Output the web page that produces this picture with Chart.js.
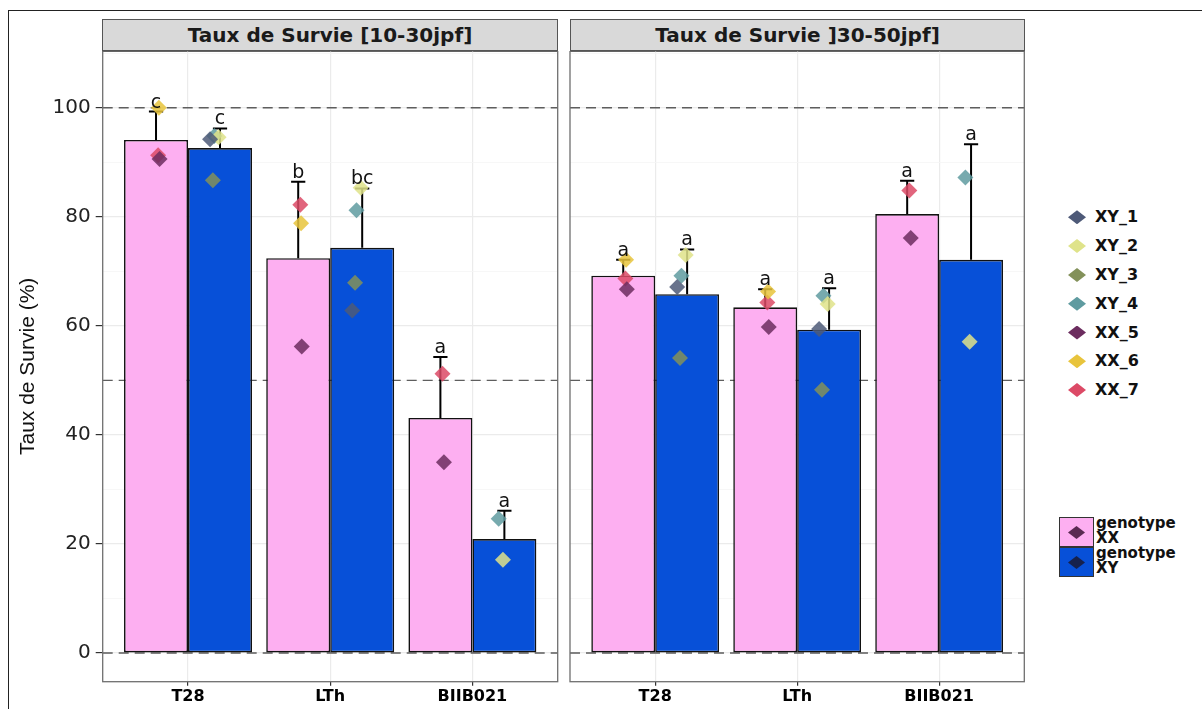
<!DOCTYPE html>
<html>
<head>
<meta charset="utf-8">
<title>Taux de Survie</title>
<script src="https://cdn.jsdelivr.net/npm/chart.js@4.4.1/dist/chart.umd.min.js"></script>
<style>
  body { margin: 0; background: #fff; width: 1202px; height: 709px; overflow: hidden; position: relative; font-family: 'DejaVu Sans', sans-serif; }
  #frame { position: absolute; left: 8px; top: 10px; width: 1300px; height: 800px; border-left: 1.5px solid #222; border-top: 1.5px solid #222; }
  .strip { position: absolute; top: 19px; height: 33px; box-sizing: border-box; background: #d9d9d9; border: 1px solid #555; border-bottom: 2px solid #555;
           font: bold 20px 'DejaVu Sans', sans-serif; color: #1a1a1a; text-align: center; line-height: 30px; }
  .panel { position: absolute; top: 51px; height: 658px; }
  .leg-item { position: absolute; left: 1066px; height: 20px; line-height: 20px; font: bold 16px 'DejaVu Sans', sans-serif; color: #111; }
  .leg-item span.d { position: absolute; left: 2px; top: 3px; width: 18px; height: 14px; clip-path: polygon(50% 0, 100% 50%, 50% 100%, 0 50%); }
  .leg-item span.t { position: absolute; left: 29px; top: 0; white-space: nowrap; }
  .key { position: absolute; left: 1059px; width: 35px; height: 30px; box-sizing: border-box; border: 1px solid #333; }
  .key span { position: absolute; left: 8px; top: 8px; width: 17px; height: 13px; clip-path: polygon(50% 0, 100% 50%, 50% 100%, 0 50%); }
  .key-text { position: absolute; left: 1096px; font: bold 15px 'DejaVu Sans', sans-serif; line-height: 15px; color: #111; }
</style>
</head>
<body>
<div id="frame"></div>
<div class="strip" id="strip1" style="left:102px; width:456px;"></div>
<div class="strip" id="strip2" style="left:570px; width:455px;"></div>
<div class="panel" style="left:0px; width:562px;"><canvas id="chart1" width="562" height="658"></canvas></div>
<div class="panel" style="left:562px; width:478px;"><canvas id="chart2" width="478" height="658"></canvas></div>
<div id="legend"></div>

<script>
// categories and panels
var categories = ['T28', 'LTh', 'BIIB021'];
var panelTitles = ['Taux de Survie [10-30jpf]', 'Taux de Survie ]30-50jpf]'];
var individuals = ['XY_1', 'XY_2', 'XY_3', 'XY_4', 'XX_5', 'XX_6', 'XX_7'];
var yTicks = [0, 20, 40, 60, 80, 100];
var refLines = [0, 50, 100];

// panel 1 : [10-30jpf]
var meanXX_1 = [94.1, 72.4, 43.1];
var meanXY_1 = [92.6, 74.3, 20.9];
var upperXX_1 = [99.3, 86.4, 54.3];
var upperXY_1 = [96.2, 85.2, 26.1];
var lettersXX_1 = ['c', 'b', 'a'];
var lettersXY_1 = ['c', 'bc', 'a'];
var indiv_1 = {
  XY_1: [94.2, 62.8, null],
  XY_2: [94.6, 85.3, 17.1],
  XY_3: [86.7, 67.9, null],
  XY_4: [94.8, 81.2, 24.6],
  XX_5: [90.6, 56.2, 35.0],
  XX_6: [100, 78.8, null],
  XX_7: [91.3, 82.2, 51.2]
};

// panel 2 : ]30-50jpf]
var meanXX_2 = [69.2, 63.4, 80.5];
var meanXY_2 = [65.8, 59.3, 72.1];
var upperXX_2 = [72.1, 66.7, 86.6];
var upperXY_2 = [74.0, 66.9, 93.3];
var lettersXX_2 = ['a', 'a', 'a'];
var lettersXY_2 = ['a', 'a', 'a'];
var indiv_2 = {
  XY_1: [67.1, 59.4, null],
  XY_2: [73.0, 64.0, 57.1],
  XY_3: [54.1, 48.3, null],
  XY_4: [69.2, 65.5, 87.2],
  XX_5: [66.7, 59.8, 76.1],
  XX_6: [72.1, 66.3, null],
  XX_7: [68.7, 64.3, 84.8]
};

// styles
var PINK = '#fdaff1';
var BLUE = '#0750d8';
var indivColors = {
  XY_1: '#4e5a78', XY_2: '#dfe38a', XY_3: '#83915a', XY_4: '#5f9ba0',
  XX_5: '#6c2d5f', XX_6: '#e8c43c', XX_7: '#dc4a66'
};
// small horizontal nudge of each individual inside its bar
var nudge = { XY_1: -0.07, XY_2: -0.01, XY_3: -0.05, XY_4: -0.04, XX_5: 0.025, XX_6: 0.02, XX_7: 0.015 };

Chart.defaults.font.family = "'DejaVu Sans', sans-serif";

function withAlpha(hex, a) {
  var r = parseInt(hex.substr(1, 2), 16), g = parseInt(hex.substr(3, 2), 16), b = parseInt(hex.substr(5, 2), 16);
  return 'rgba(' + r + ',' + g + ',' + b + ',' + a + ')';
}

// dashed lines, error bars, letters and the panel border
var panelDecor = {
  id: 'panelDecor',
  beforeDatasetsDraw: function(chart) {
    var ctx = chart.ctx, area = chart.chartArea, y = chart.scales.y;
    ctx.save();
    ctx.setLineDash([10, 6]);
    ctx.strokeStyle = '#5e5e5e';
    ctx.lineWidth = 1.4;
    refLines.forEach(function(v) {
      var py = y.getPixelForValue(v);
      ctx.beginPath();
      ctx.moveTo(area.left, py);
      ctx.lineTo(area.right, py);
      ctx.stroke();
    });
    ctx.restore();
  },
  afterDatasetDraw: function(chart, args) {
    var ds = chart.data.datasets[args.index];
    if (!ds.upper) return;
    var ctx = chart.ctx, y = chart.scales.y, x = chart.scales.x;
    var cap = Math.abs(x.getPixelForValue(0.05) - x.getPixelForValue(0));
    ctx.save();
    ctx.strokeStyle = '#000';
    ctx.lineWidth = 2;
    args.meta.data.forEach(function(bar, i) {
      var top = y.getPixelForValue(ds.upper[i]);
      ctx.beginPath();
      ctx.moveTo(bar.x, bar.y);
      ctx.lineTo(bar.x, top);
      ctx.moveTo(bar.x - cap, top);
      ctx.lineTo(bar.x + cap, top);
      ctx.stroke();
    });
    ctx.restore();
  },
  afterDatasetsDraw: function(chart) {
    var ctx = chart.ctx, y = chart.scales.y;
    ctx.save();
    ctx.fillStyle = '#111';
    ctx.font = "19px 'DejaVu Sans'";
    ctx.textAlign = 'center';
    ctx.textBaseline = 'alphabetic';
    chart.data.datasets.forEach(function(ds, k) {
      if (!ds.letters) return;
      chart.getDatasetMeta(k).data.forEach(function(bar, i) {
        ctx.fillText(ds.letters[i], bar.x, y.getPixelForValue(ds.upper[i]) - 4);
      });
    });
    ctx.restore();
  },
  afterDraw: function(chart) {
    var ctx = chart.ctx, a = chart.chartArea;
    ctx.save();
    ctx.strokeStyle = '#6f6f6f';
    ctx.lineWidth = 1.3;
    ctx.strokeRect(a.left, a.top, a.right - a.left, a.bottom - a.top);
    ctx.restore();
  }
};

function buildPanel(canvasId, meanXX, meanXY, upperXX, upperXY, lettersXX, lettersXY, indiv, showY) {
  var datasets = [];
  datasets.push({
    type: 'bar', label: 'genotype XX',
    data: categories.map(function(c, i) { return { x: i, y: meanXX[i] }; }),
    backgroundColor: PINK, borderColor: '#111', borderWidth: 1.6, borderSkipped: false,
    categoryPercentage: 0.9, barPercentage: 1, order: 2,
    upper: upperXX, letters: lettersXX
  });
  datasets.push({
    type: 'bar', label: 'genotype XY',
    data: categories.map(function(c, i) { return { x: i, y: meanXY[i] }; }),
    backgroundColor: BLUE, borderColor: '#111', borderWidth: 1.6, borderSkipped: false,
    categoryPercentage: 0.9, barPercentage: 1, order: 2,
    upper: upperXY, letters: lettersXY
  });

  individuals.forEach(function(id) {
    var shift = (id.indexOf('XX') === 0 ? -0.225 : 0.225) + nudge[id];
    var pts = [];
    indiv[id].forEach(function(v, i) {
      if (v !== null) pts.push({ x: i + shift, y: v });
    });
    datasets.push({
      type: 'scatter', label: id, data: pts,
      pointStyle: 'rectRot', pointRadius: 8,
      backgroundColor: withAlpha(indivColors[id], 0.85), borderWidth: 0, order: 1
    });
  });

  return new Chart(document.getElementById(canvasId), {
    type: 'bar',
    data: { datasets: datasets },
    plugins: [panelDecor],
    options: {
      responsive: false,
      animation: false,
      events: [],
      layout: {
        autoPadding: false,
        padding: showY ? { left: 0, right: 4.3, top: 0, bottom: 0 } : { left: 0, right: 15.7, top: 0, bottom: 0 }
      },
      plugins: { legend: { display: false }, tooltip: { enabled: false } },
      scales: {
        x: {
          type: 'linear', min: -0.6, max: 2.6, offset: false,
          afterBuildTicks: function(scale) {
            scale.ticks = categories.map(function(c, i) { return { value: i }; });
          },
          afterFit: function(scale) {
            scale.height = 27.3;
            scale.paddingLeft = 0; scale.paddingRight = 0;
          },
          grid: { offset: false, color: '#ebebeb', lineWidth: 1.2, tickLength: 4, tickColor: '#333', tickWidth: 1.2 },
          border: { display: false },
          ticks: {
            padding: 2, color: '#000', font: { size: 16, weight: 'bold' }, maxRotation: 0,
            callback: function(v) { return categories[v]; }
          }
        },
        y: {
          type: 'linear', min: -5.26, max: 110.4,
          afterBuildTicks: function(scale) {
            var t = [];
            for (var v = 0; v <= 110; v += 10) t.push({ value: v });
            scale.ticks = t;
          },
          afterFit: function(scale) {
            scale.width = showY ? 102.7 : 8;
            scale.paddingTop = 0; scale.paddingBottom = 0;
          },
          grid: {
            drawTicks: showY, tickLength: 7, tickWidth: 1.2,
            color: function(c) { return c.tick && c.tick.value % 20 === 0 ? '#ebebeb' : '#f5f5f5'; },
            lineWidth: function(c) { return c.tick && c.tick.value % 20 === 0 ? 1.2 : 0.8; },
            tickColor: function(c) { return c.tick && yTicks.indexOf(c.tick.value) >= 0 ? '#333' : 'rgba(0,0,0,0)'; }
          },
          border: { display: false },
          ticks: {
            display: showY, padding: 5, color: '#222', font: { size: 20 },
            callback: function(v) { return yTicks.indexOf(v) >= 0 ? String(v) : ''; }
          },
          title: {
            display: showY, text: 'Taux de Survie (%)', color: '#111',
            font: { family: "'Liberation Sans', Arial, sans-serif", size: 21 },
            padding: { top: 16, bottom: 0 }
          }
        }
      }
    }
  });
}

// strips
document.getElementById('strip1').textContent = panelTitles[0];
document.getElementById('strip2').textContent = panelTitles[1];

buildPanel('chart1', meanXX_1, meanXY_1, upperXX_1, upperXY_1, lettersXX_1, lettersXY_1, indiv_1, true);
buildPanel('chart2', meanXX_2, meanXY_2, upperXX_2, upperXY_2, lettersXX_2, lettersXY_2, indiv_2, false);

// legends on the right
var legend = document.getElementById('legend');
var html = '';
individuals.forEach(function(id, k) {
  var top = 217.3 + k * 28.8 - 10;
  html += '<div class="leg-item" style="top:' + top + 'px"><span class="d" style="background:' + indivColors[id] + '"></span><span class="t">' + id + '</span></div>';
});
html += '<div class="key" style="top:517px; background:' + PINK + '"><span style="background:#5a2a52"></span></div>';
html += '<div class="key" style="top:547px; background:' + BLUE + '"><span style="background:#16214d"></span></div>';
html += '<div class="key-text" style="top:516px">genotype<br>XX</div>';
html += '<div class="key-text" style="top:546px">genotype<br>XY</div>';
legend.innerHTML = html;
</script>
</body>
</html>
